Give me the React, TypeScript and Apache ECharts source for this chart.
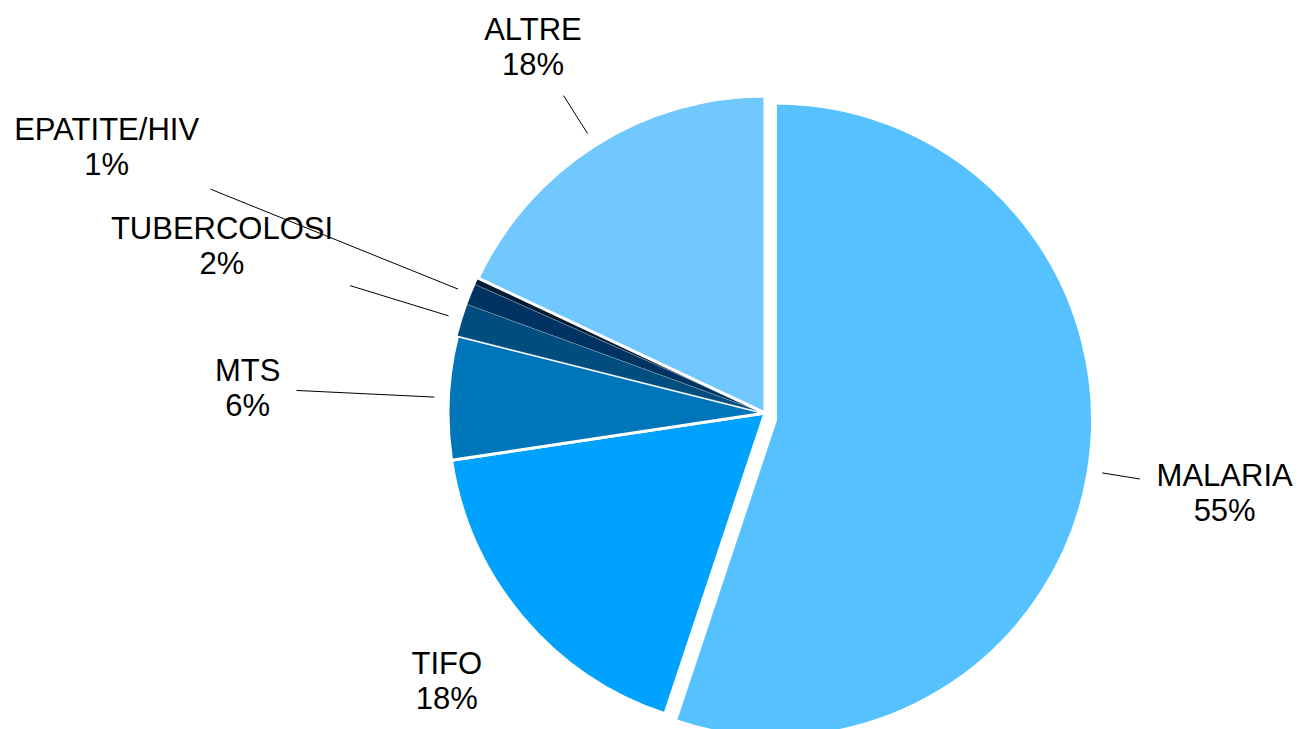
import React, { useEffect, useRef } from "react";
import * as echarts from "echarts";

// ---- data ----
const categories: string[] = ["MALARIA", "TIFO", "MTS", "TUBERCOLOSI", "EPATITE/HIV", "", "ALTRE"];
const values: number[] = [55.1, 17.5, 6.3, 1.65, 1.08, 0.35, 18.0];
const colors: string[] = ["#56C1FF", "#00A2FF", "#0076BA", "#004D80", "#003362", "#021C36", "#70C8FF"];
const exploded: boolean[] = [true, false, false, false, false, false, false];
const showLabel: boolean[] = [true, true, true, true, true, false, true];
const showLine: boolean[] = [true, false, true, true, true, false, true];

// ---- layout (distances beyond the pie radius) ----
const CENTER: number[] = [765, 413];
const EXPLODED_CENTER: number[] = [775.5, 420];
const RADIUS = 317;
const LINE_START = 14;
const LINE_END: number[] = [52, 0, 152, 117, 281, 0, 59];
const LABEL_DIST: number[] = [138, 99, 201, 251, 393, 0, 116];
const FONT = "'Liberation Sans', Arial, Helvetica, sans-serif";

function midDir(i: number) {
  const total = values.reduce((a, b) => a + b, 0);
  let before = 0;
  for (let k = 0; k < i; k++) before += values[k];
  const mid = ((before + values[i] / 2) / total) * 2 * Math.PI; // clockwise from top
  return { dx: Math.sin(mid), dy: -Math.cos(mid) };
}

function buildSeries(explodedPart: boolean) {
  const c = explodedPart ? EXPLODED_CENTER : CENTER;
  const data = categories.map((name, i) => {
    const visible = exploded[i] === explodedPart;
    const dark = i >= 3 && i <= 5;
    return {
      name,
      value: values[i],
      itemStyle: visible
        ? {
            color: colors[i],
            borderColor: dark ? "rgba(255,255,255,0.35)" : "#ffffff",
            borderWidth: dark ? 0.6 : 3,
          }
        : { color: "rgba(0,0,0,0)", borderWidth: 0 },
      label: { show: visible && showLabel[i] },
      labelLine: { show: visible && showLine[i] },
    };
  });
  return {
    type: "pie",
    center: c,
    radius: RADIUS,
    startAngle: 90,
    clockwise: true,
    avoidLabelOverlap: false,
    silent: true,
    emphasis: { disabled: true },
    data,
    label: {
      show: true,
      position: "outside",
      color: "#000000",
      fontFamily: FONT,
      fontSize: 31,
      lineHeight: 35,
      align: "center",
      formatter: (p: any) => `${p.name}\n${Math.round(p.percent)}%`,
    },
    labelLine: {
      show: true,
      length: 20,
      length2: 0,
      lineStyle: { color: "#000000", width: 1 },
    },
    labelLayout: (p: any) => {
      const i = p.dataIndex;
      const { dx, dy } = midDir(i);
      const cx = c[0];
      const cy = c[1];
      const s = RADIUS + LINE_START;
      const e = RADIUS + LINE_END[i];
      const l = RADIUS + LABEL_DIST[i];
      const res: any = {
        x: cx + dx * l,
        y: cy + dy * l,
        align: "center",
        verticalAlign: "middle",
      };
      if (showLine[i]) {
        const end = [cx + dx * e, cy + dy * e];
        res.labelLinePoints = [[cx + dx * s, cy + dy * s], end, end];
      }
      return res;
    },
  };
}

export default function App() {
  const ref = useRef<HTMLDivElement>(null);
  useEffect(() => {
    if (!ref.current) return;
    const chart = echarts.init(ref.current, undefined, { renderer: "svg" });
    chart.setOption({
      animation: false,
      backgroundColor: "#ffffff",
      series: [buildSeries(true), buildSeries(false)],
    });
    return () => chart.dispose();
  }, []);
  return (
    <div
      ref={ref}
      style={{ position: "absolute", left: 0, top: 0, width: 1308, height: 729, background: "#ffffff" }}
    />
  );
}
